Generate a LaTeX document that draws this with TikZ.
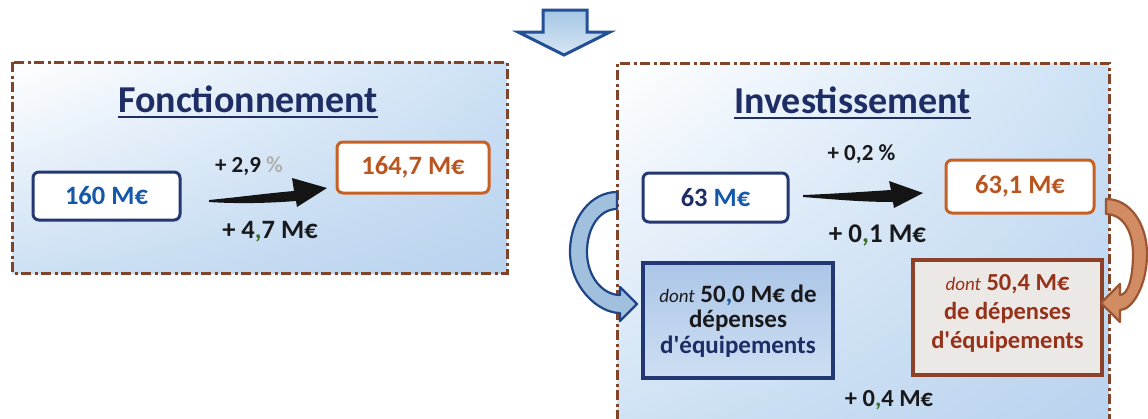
\documentclass[tikz,border=0pt]{standalone}
\usepackage{fontspec}
\setmainfont{Carlito}
\usetikzlibrary{calc,shadings}
\newcommand\stq{\XeTeXglyph\XeTeXcharglyph"0027\relax}
\definecolor{navy}{RGB}{30,45,100}
\definecolor{boxnavy}{RGB}{35,55,115}
\definecolor{valblue}{RGB}{20,88,170}
\definecolor{orgline}{RGB}{200,95,35}
\definecolor{orgtext}{RGB}{185,85,30}
\definecolor{brownline}{RGB}{140,65,40}
\definecolor{browntext}{RGB}{150,50,25}
\definecolor{dashbrown}{RGB}{130,68,40}
\definecolor{txtdark}{RGB}{25,25,28}
\definecolor{commagreen}{RGB}{60,110,40}
\definecolor{pctgray}{RGB}{175,175,175}
\definecolor{panTR}{RGB}{205,225,245}
\definecolor{panBL}{RGB}{205,225,244}
\definecolor{panBR}{RGB}{185,210,238}
\definecolor{lbfillA}{RGB}{172,198,232}
\definecolor{lbfillB}{RGB}{205,222,242}
\definecolor{obfill}{RGB}{236,232,230}
\definecolor{arrowblue}{RGB}{35,80,150}
\definecolor{arrowlight}{RGB}{165,198,228}
\definecolor{arrowlightB}{RGB}{215,230,245}
\definecolor{curvblueline}{RGB}{30,70,135}
\definecolor{curvbluefill}{RGB}{160,192,222}
\definecolor{curvorgline}{RGB}{155,85,50}
\definecolor{curvorgfill}{RGB}{210,140,100}
\tikzset{
  panelborder/.style={draw=dashbrown, line width=3pt, dash pattern=on 10pt off 3.5pt on 3pt off 3.5pt},
  valbox/.style={draw, fill=white, line width=3pt, rounded corners=6pt, inner sep=0pt,
    font=\fontsize{26.5}{28}\selectfont\bfseries},
  titletext/.style={inner sep=0pt, anchor=base, text=navy, font=\fontsize{38}{40}\selectfont\bfseries},
  lbl/.style={inner sep=0pt, text=txtdark},
  swoosh/.style={fill=black!92},
}
\begin{document}
\begin{tikzpicture}[x=1pt,y=-1pt]
\useasboundingbox (0,0) rectangle (1148,418);
\fill[white] (0,0) rectangle (1148,418);

% panels
\shade[upper left=white, upper right=panTR, lower left=panBL, lower right=panBR] (12,62) rectangle (507,273);
\draw[panelborder] (12,62) rectangle (507,273);
\shade[upper left=white, upper right=panTR, lower left=panBL, lower right=panBR] (617,63) rectangle (1109,440);
\draw[panelborder] (617,440) -- (617,63) -- (1109,63) -- (1109,440);

% top arrow
\draw[draw=arrowblue, line width=3pt, line join=miter, top color=arrowlight, bottom color=arrowlightB]
  (543,10) -- (587,10) -- (587,32) -- (610,32) -- (564,55) -- (518,32) -- (543,32) -- cycle;

% titles
\node[titletext] (tf) at (248,112) {Fonctionnement};
\draw[navy, line width=2pt] ($(tf.base west)+(0,5)$) -- ($(tf.base east)+(0,5)$);
\node[titletext] (ti) at (852.5,113) {Investissement};
\draw[navy, line width=2pt] ($(ti.base west)+(0,5)$) -- ($(ti.base east)+(0,5)$);

% value boxes
\node[valbox, draw=boxnavy, minimum width=147pt, minimum height=48pt] (f160) at (106.5,196) {\color{valblue}160 M€};
\node[valbox, draw=orgline, minimum width=152pt, minimum height=51pt] (f164) at (413,167.5) {\color{orgtext}164,7 M€};
\node[valbox, draw=boxnavy, minimum width=145pt, minimum height=49pt] (i63) at (715.5,197.5) {{\color{navy}63} {\color{valblue}M€}};
\node[valbox, draw=orgline, minimum width=148pt, minimum height=53pt] (i631) at (1020,186.5) {\color{orgtext}63,1 M€};

% black swoosh arrows
\coordinate (sw1) at (209,200);
\fill[swoosh, shift={(sw1)}] (0,0) .. controls (31,-3) and (61,-7) .. (85,-9) -- (83,-22) -- (118,-12) -- (88,7) -- (87,1) .. controls (61,3) and (31,4) .. (0,2) -- cycle;
\coordinate (sw2) at (803,195);
\fill[swoosh, shift={(sw2)}] (0,0) .. controls (27,-1) and (57,-3) .. (88,-5) -- (86,-14) -- (120,-2) -- (91,13) -- (90,7) .. controls (57,7) and (27,4) .. (0,2) -- cycle;

% labels
\node[lbl, font=\fontsize{23}{25}\selectfont\bfseries] (l29) at (249,166) {+ 2,9 {\color{pctgray}\%}};
\node[lbl, font=\fontsize{26.5}{28}\selectfont\bfseries] (l47) at (270,232) {+ 4{\color{commagreen},}7 M€};
\node[lbl, font=\fontsize{23}{25}\selectfont\bfseries] (l02) at (861.5,154) {+ 0,2 \%};
\node[lbl, font=\fontsize{27}{28}\selectfont\bfseries] (l01) at (877.5,235) {+ 0{\color{commagreen},}1 M€};
\node[lbl, font=\fontsize{24.5}{26}\selectfont\bfseries] (l04) at (889,400) {+ 0{\color{commagreen},}4 M€};

% lower boxes
\node[draw=boxnavy, line width=3.5pt, top color=lbfillA, bottom color=lbfillB, minimum width=190pt, minimum height=115pt, inner sep=0pt] (bb) at (738,320.5) {};
\node[inner sep=0pt, align=center, text=txtdark, font=\fontsize{25}{25.5}\selectfont\bfseries] (bbt) at (738,321) {{\fontsize{19}{20}\selectfont\mdseries\itshape dont} 50{\color{valblue},}0 M€ de\\dépenses\\{\color{navy}d\stq équipements}};
\node[draw=brownline, line width=3.5pt, fill=obfill, minimum width=189pt, minimum height=115pt, inner sep=0pt] (ob) at (1007.5,317.5) {};
\node[inner sep=0pt, align=center, text=browntext, font=\fontsize{24.5}{29}\selectfont\bfseries] (obt) at (1007.5,313) {{\fontsize{19}{20}\selectfont\mdseries\itshape dont} 50,4 M€\\de dépenses\\d\stq équipements};

% curved arrows
\draw[draw=curvblueline, fill=curvbluefill, line width=2.2pt, line join=round]
  (617,192) .. controls (591,192) and (570,218) .. (570,252)
  .. controls (570,287) and (598,313) .. (620,313)
  -- (620,321) -- (637,304) -- (620,287) -- (620,295)
  .. controls (603,295) and (587,277) .. (587,252)
  .. controls (587,227) and (600,209) .. (617,209) -- cycle;
\draw[draw=curvorgline, fill=curvorgfill, line width=2.2pt, line join=round]
  (1106,199) .. controls (1131,199) and (1147,225) .. (1147,254)
  .. controls (1147,286) and (1132,310) .. (1120,310)
  -- (1120,322) -- (1101,303) -- (1120,284) -- (1120,295)
  .. controls (1128,295) and (1133,278) .. (1133,254)
  .. controls (1133,230) and (1122,214) .. (1106,214) -- cycle;
\end{tikzpicture}
\end{document}
